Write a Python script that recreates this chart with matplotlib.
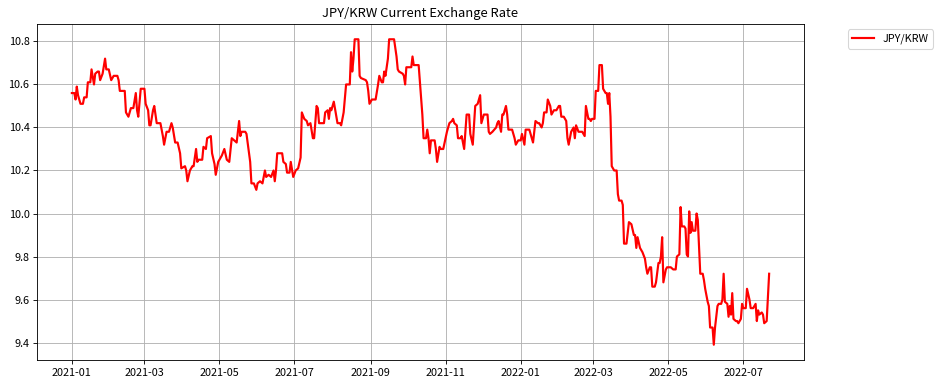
import matplotlib
matplotlib.use("Agg")
import matplotlib.pyplot as plt
import matplotlib.dates as mdates
import pandas as pd

plt.rcParams['font.family'] = ['Noto Sans CJK KR', 'DejaVu Sans']

# days since 2021-01-01
days = [
    0, 2, 3, 4, 5, 7, 9, 10, 12, 13, 15, 16, 18, 19, 21, 22, 23, 25, 27, 28,
    30, 32, 34, 37, 38, 39, 43, 44, 46, 48, 50, 52, 53, 54, 56, 59, 60, 62, 63, 64,
    66, 67, 68, 69, 72,
    73, 74, 75, 77, 79, 81, 82, 84, 86, 88, 89, 92, 93, 94, 96, 98, 99, 101, 102, 103,
    106, 107, 109, 110, 113, 114, 116, 117, 119, 120, 122, 124, 126, 128, 130, 132, 134, 136, 137, 138,
    141, 142, 145, 146, 148, 150, 151, 153, 155, 157, 158, 160, 162, 164, 165, 166, 167, 170,
    171, 172, 174, 175, 177, 178, 180, 182, 184, 186, 187, 189, 191, 192, 194, 196, 197, 199, 200, 201,
    205, 206, 208, 209, 210, 211, 213, 216, 218, 219, 221, 223, 226, 227, 228, 229, 230, 233, 234, 235,
    239, 240, 241, 242, 244, 247, 249, 250, 252, 253, 254, 255, 257, 258,
    262, 264, 265, 266, 269, 270, 271, 272, 276, 277, 278, 282, 284, 285, 286, 288, 289, 290, 291, 292,
    295, 296, 297, 299, 300, 302, 305, 307, 309, 310, 311, 313, 314, 316, 317, 319, 321, 323, 324, 326,
    328, 330, 332, 333, 335, 338, 339, 340, 342, 345, 346, 347, 349, 350, 351, 353, 354, 355, 358, 360,
    361, 363, 365,
    366, 368, 369, 372, 374, 375, 377, 379, 380, 382, 383, 384, 386, 387, 389, 390, 392, 394, 396, 397,
    398, 400, 402, 403, 404, 406, 408, 409, 410, 412, 415, 417, 418, 420, 421, 422, 423, 425, 426, 428,
    429, 431, 432, 434, 435, 436, 437, 438, 439, 441, 443, 444, 445, 447, 448, 449, 451, 453, 455, 457,
    458, 459, 460, 462,
    463, 464, 466, 467, 468, 470, 471, 472, 474, 475, 477, 478, 479, 480, 481, 483, 484, 486, 487, 489,
    491, 492, 494, 495, 496, 498, 499, 500, 501, 502, 503, 504, 505, 507, 508, 509, 511, 513, 514, 515,
    517, 518, 519, 521, 522, 523, 525, 526, 528, 529, 530, 531, 533, 534, 535, 536, 537, 538, 540, 541,
    542, 544, 545, 546, 548, 549, 551, 552, 554, 556, 557, 558, 559, 561, 562, 563, 565, 567,
]

rate = [
    10.56, 10.56, 10.53, 10.59, 10.55, 10.51, 10.51, 10.54, 10.54, 10.61, 10.61, 10.67, 10.60, 10.65, 10.66, 10.66, 10.62, 10.65, 10.72, 10.67,
    10.67, 10.62, 10.64, 10.64, 10.62, 10.57, 10.57, 10.47, 10.45, 10.49, 10.49, 10.56, 10.48, 10.45, 10.58, 10.58, 10.51, 10.48, 10.41, 10.41,
    10.48, 10.50, 10.46, 10.42, 10.42,
    10.39, 10.36, 10.32, 10.38, 10.38, 10.42, 10.40, 10.33, 10.33, 10.28, 10.21, 10.22, 10.20, 10.15, 10.20, 10.22, 10.22, 10.30, 10.24, 10.25,
    10.25, 10.31, 10.30, 10.35, 10.36, 10.28, 10.23, 10.18, 10.24, 10.25, 10.27, 10.30, 10.25, 10.24, 10.35, 10.34, 10.33, 10.43, 10.36, 10.38,
    10.38, 10.37, 10.24, 10.14, 10.14, 10.11, 10.14, 10.15, 10.14, 10.20, 10.17, 10.18, 10.17, 10.20, 10.15, 10.20, 10.28, 10.28,
    10.28, 10.24, 10.23, 10.19, 10.19, 10.24, 10.17, 10.20, 10.21, 10.26, 10.47, 10.44, 10.43, 10.41, 10.42, 10.35, 10.35, 10.50, 10.49, 10.42,
    10.42, 10.47, 10.48, 10.44, 10.49, 10.48, 10.52, 10.42, 10.42, 10.41, 10.47, 10.60, 10.60, 10.75, 10.66, 10.72, 10.81, 10.81, 10.64, 10.63,
    10.62, 10.61, 10.57, 10.51, 10.53, 10.53, 10.60, 10.64, 10.61, 10.61, 10.66, 10.64, 10.72, 10.81,
    10.81, 10.73, 10.67, 10.66, 10.65, 10.64, 10.60, 10.68, 10.68, 10.73, 10.69, 10.69, 10.54, 10.46, 10.35, 10.35, 10.39, 10.35, 10.28, 10.34,
    10.34, 10.30, 10.24, 10.31, 10.30, 10.30, 10.38, 10.42, 10.43, 10.44, 10.42, 10.41, 10.35, 10.35, 10.36, 10.30, 10.46, 10.46, 10.37, 10.32,
    10.50, 10.51, 10.55, 10.42, 10.46, 10.46, 10.38, 10.37, 10.38, 10.40, 10.42, 10.43, 10.38, 10.46, 10.46, 10.50, 10.46, 10.39, 10.39, 10.35,
    10.32, 10.34, 10.34,
    10.37, 10.32, 10.39, 10.39, 10.35, 10.33, 10.43, 10.42, 10.42, 10.40, 10.42, 10.47, 10.47, 10.53, 10.50, 10.46, 10.48, 10.48, 10.50, 10.50,
    10.45, 10.45, 10.43, 10.35, 10.32, 10.38, 10.40, 10.35, 10.41, 10.38, 10.38, 10.36, 10.50, 10.44, 10.44, 10.43, 10.44, 10.44, 10.57, 10.57,
    10.69, 10.69, 10.58, 10.56, 10.56, 10.51, 10.56, 10.45, 10.22, 10.20, 10.20, 10.09, 10.06, 10.06, 10.04, 9.86, 9.86, 9.96, 9.95, 9.90,
    9.90, 9.84, 9.89, 9.84,
    9.83, 9.82, 9.79, 9.75, 9.72, 9.75, 9.75, 9.66, 9.66, 9.68, 9.77, 9.77, 9.80, 9.89, 9.68, 9.74, 9.75, 9.75, 9.75, 9.74,
    9.74, 9.80, 9.81, 10.03, 9.94, 9.94, 9.93, 9.81, 9.80, 10.01, 9.91, 9.96, 9.92, 9.92, 10.00, 9.97, 9.72, 9.72, 9.69, 9.65,
    9.59, 9.57, 9.47, 9.47, 9.39, 9.47, 9.57, 9.58, 9.58, 9.60, 9.72, 9.59, 9.58, 9.52, 9.57, 9.53, 9.63, 9.51, 9.50, 9.50,
    9.49, 9.51, 9.58, 9.56, 9.56, 9.65, 9.60, 9.56, 9.56, 9.58, 9.50, 9.55, 9.53, 9.54, 9.53, 9.49, 9.50, 9.72,
]

dates = pd.Timestamp('2021-01-01') + pd.to_timedelta(days, unit='D')

# the original looks like a 12x5 figure rendered at about 78 dpi
dpi = 78
fig = plt.figure(figsize=(939 / dpi, 386 / dpi), dpi=dpi)
ax = fig.add_axes([37 / 939, 26 / 386, 767 / 939, 336 / 386])

ax.plot(dates, rate, color='red', linewidth=2, label='JPY/KRW')

ax.xaxis.set_major_locator(mdates.MonthLocator(bymonth=[1, 3, 5, 7, 9, 11]))
ax.xaxis.set_major_formatter(mdates.DateFormatter('%Y-%m'))

ax.set_title('JPY/KRW Current Exchange Rate', fontsize=12)
ax.grid(True)
ax.legend(loc='upper left', bbox_to_anchor=(1.05, 1))

fig.savefig('out.png', dpi=dpi)
